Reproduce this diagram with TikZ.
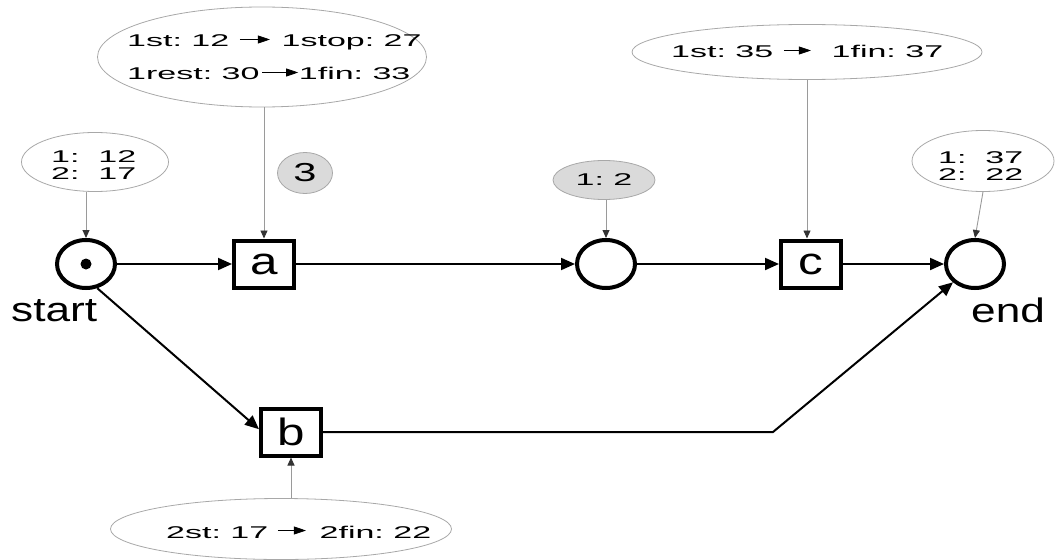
\documentclass[tikz,border=0pt]{standalone}
\usepackage{fontspec}
\usepackage{graphicx}
\setmainfont{Liberation Sans}
\usetikzlibrary{shapes.geometric,arrows.meta}
\frenchspacing

\definecolor{notegray}{HTML}{A8A8A8}
\definecolor{linkgray}{HTML}{9A9A9A}
\definecolor{fillgray}{HTML}{DADADA}

% horizontally widened text: {x-scale}{size}{leading}{text}
\newcommand\wtxt[4]{\scalebox{#1}[1]{\fontsize{#2pt}{#3pt}\selectfont #4}}
% small inline arrow: {gap before}{length}{gap after}
\newcommand\tarr[3]{\hspace*{#1pt}\tikz[baseline=-7.5pt]\draw[line width=0.7pt,-{Triangle[length=6pt,width=8pt]}] (0pt,0pt)--(#2pt,0pt);\hspace*{#3pt}}

\tikzset{
  place/.style={ellipse, draw, line width=4pt, minimum width=58pt, minimum height=48pt, inner sep=0pt},
  trans/.style={rectangle, draw, line width=4pt, minimum width=60pt, minimum height=47pt, inner sep=0pt},
  token/.style={circle, fill, minimum size=11pt, inner sep=0pt},
  note/.style={ellipse, draw=notegray, line width=0.8pt, inner sep=0pt},
  gnote/.style={note, fill=fillgray},
  flow/.style={line width=2pt, -{Triangle[length=14pt,width=12pt]}},
  link/.style={draw=linkgray, line width=0.9pt, -{Triangle[length=8pt,width=7pt,color=black!80]}},
  txt/.style={inner sep=0pt, anchor=base west}
}

\begin{document}
\begin{tikzpicture}[x=1pt,y=-1pt]
\useasboundingbox (0,0) rectangle (1056,559);

% net elements
\node[place] (start) at (86,264) {};
\node[token] (tok) at (start.center) {};
\node[trans] (a) at (264,264) {\wtxt{1.3}{38}{38}{a}};
\node[place] (p2) at (606,264) {};
\node[trans] (c) at (811,264) {\wtxt{1.3}{38}{38}{c}};
\node[place] (end) at (975,264) {};
\node[trans] (b) at (291,432) {\wtxt{1.3}{38}{38}{b}};
\coordinate (bend) at (773,432);

\node[txt] (lstart) at (11,321) {\wtxt{1.3}{34}{34}{start}};
\node[txt] (lend) at (971,322) {\wtxt{1.3}{34}{34}{end}};

% arcs
\draw[flow] (start) -- (a);
\draw[flow] (a) -- (p2);
\draw[flow] (p2) -- (c);
\draw[flow] (c) -- (end);
\draw[flow] (start.-65) -- (b.175);
\draw[flow] (b.east) -- (bend) -- (end);

% annotations
\node[note, minimum width=147pt, minimum height=59pt] (nS) at (95,162) {};
\node[note, minimum width=329pt, minimum height=100pt] (nA) at (262,57) {};
\node[gnote, minimum width=55pt, minimum height=41pt] (n3) at (305,173) {\wtxt{1.6}{26}{26}{3}};
\node[gnote, minimum width=102pt, minimum height=39pt] (nP) at (604,180) {\wtxt{2}{17}{17}{1: 2}};
\node[note, minimum width=350pt, minimum height=55pt] (nC) at (807,52) {};
\node[note, minimum width=142pt, minimum height=61pt] (nE) at (983,161) {};
\node[note, minimum width=341pt, minimum height=61pt] (nB) at (281,529) {};

\node[txt] (tS) at (51,162) {\wtxt{2}{17}{17}{\begin{tabular}[t]{@{}l@{}}1:\ \ 12\\2:\ \ 17\end{tabular}}};
\node[txt] (tA) at (127,47) {\wtxt{2}{17}{33}{\begin{tabular}[t]{@{}l@{}}1st: 12\tarr{5}{15}{5.5}1stop: 27\\1rest: 30\tarr{1}{18}{0}1fin: 33\end{tabular}}};
\node[txt] (tC) at (671,58) {\wtxt{2}{17}{17}{1st: 35\tarr{5}{13.5}{10}1fin: 37}};
\node[txt] (tE) at (938,163) {\wtxt{2}{17}{17}{\begin{tabular}[t]{@{}l@{}}1:\ \ 37\\2:\ \ 22\end{tabular}}};
\node[txt] (tB) at (166,538) {\wtxt{2}{17}{17}{2st: 17\tarr{4.5}{14}{6.5}2fin: 22}};

\draw[link] (nS.south -| start.north) -- (start.north);
\draw[link] (nA.south -| a.north) -- (a.north);
\draw[link] (nP.south -| p2.north) -- (p2.north);
\draw[link] (nC.south) -- (nC.south |- c.north);
\draw[link] (nE.south) -- (end.north);
\draw[link] (nB.north -| b.south) -- (b.south);
\end{tikzpicture}
\end{document}
